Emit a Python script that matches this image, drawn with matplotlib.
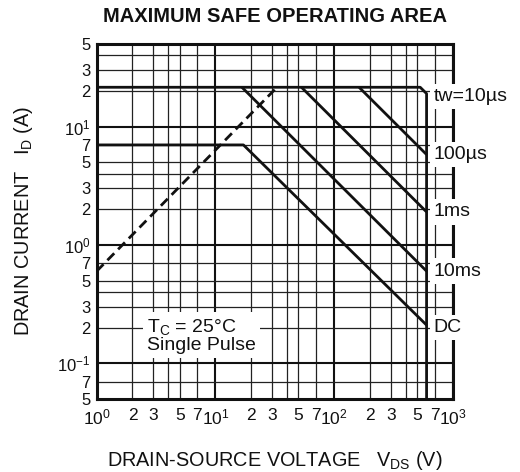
import matplotlib
matplotlib.use("Agg")
from matplotlib import pyplot as plt
from matplotlib.ticker import FixedLocator, FixedFormatter

plt.rcParams['font.family'] = ['Liberation Sans', 'DejaVu Sans']
plt.rcParams['mathtext.fontset'] = 'custom'
plt.rcParams['mathtext.rm'] = 'Liberation Sans'
plt.rcParams['mathtext.default'] = 'regular'

# curves (VDS in V, ID in A)
tw10_v = [1, 530, 600, 600]
tw10_i = [21.5, 21.5, 19, 0.05]
us100_v = [162, 600]
us100_i = [21.5, 5.8]
ms1_v = [53, 600]
ms1_i = [21.5, 1.9]
ms10_v = [16.7, 600]
ms10_i = [21.5, 0.6]
dc_v = [1, 17.2, 600]
dc_i = [7, 7, 0.21]
rds_v = [1, 33]
rds_i = [0.6, 21.5]

curve_labels = ['tw=10µs', '100µs', '1ms', '10ms', 'DC']
label_i = [18, 5.8, 1.9, 0.6, 0.2]
label_v = 690

x_major = [1, 10, 100, 1000]
x_major_lbl = ['$10^{0}$', '$10^{1}$', '$10^{2}$', '$10^{3}$']
x_minor = [2, 3, 4, 5, 7, 20, 30, 40, 50, 70, 200, 300, 400, 500, 700]
x_minor_lbl = ['2', '3', '', '5', '7'] * 3
y_major = [0.1, 1, 10]
y_major_lbl = ['$10^{-1}$', '$10^{0}$', '$10^{1}$']
y_minor = [0.05, 0.07, 0.2, 0.3, 0.4, 0.5, 0.7, 2, 3, 4, 5, 7, 20, 30, 40, 50]
y_minor_lbl = ['5', '7'] + ['2', '3', '', '5', '7'] * 2 + ['2', '3', '', '5']

fig = plt.figure(figsize=(5.2, 4.72), dpi=100)
ax = fig.add_axes([0.186, 0.155, 0.685, 0.752])
ax.set_xscale('log')
ax.set_yscale('log')
ax.set_xlim(1, 1000)
ax.set_ylim(0.05, 50)

ax.xaxis.set_major_locator(FixedLocator(x_major))
ax.xaxis.set_major_formatter(FixedFormatter(x_major_lbl))
ax.xaxis.set_minor_locator(FixedLocator(x_minor))
ax.xaxis.set_minor_formatter(FixedFormatter(x_minor_lbl))
ax.yaxis.set_major_locator(FixedLocator(y_major))
ax.yaxis.set_major_formatter(FixedFormatter(y_major_lbl))
ax.yaxis.set_minor_locator(FixedLocator(y_minor))
ax.yaxis.set_minor_formatter(FixedFormatter(y_minor_lbl))
ax.tick_params(which='both', length=0, labelsize=12, colors='#111111')
ax.tick_params(axis='x', which='both', pad=6.5, labelsize=12.5)
ax.tick_params(axis='y', which='both', pad=4.5)

ax.grid(which='major', color='#111111', lw=1.5)
ax.grid(which='minor', color='#222222', lw=0.9)
ax.set_axisbelow(True)
for s in ax.spines.values():
    s.set_linewidth(2.2)
    s.set_color('#111111')

lw = 2.0
for v, i in [(tw10_v, tw10_i), (us100_v, us100_i), (ms1_v, ms1_i),
             (ms10_v, ms10_i), (dc_v, dc_i)]:
    ax.plot(v, i, color='#111111', lw=lw, solid_capstyle='butt', zorder=3)
ax.plot(rds_v, rds_i, color='#111111', lw=lw, ls=(0, (3.5, 2)), zorder=3)

for txt, yi in zip(curve_labels, label_i):
    ax.text(label_v, yi, txt, ha='left', va='center', fontsize=14,
            color='#111111', clip_on=False, zorder=5,
            bbox=dict(boxstyle='square,pad=0.22', fc='white', ec='none'))

ax.text(2.65, 0.172, 'T$_{C}$ = 25°C\nSingle Pulse', ha='left', va='center',
        fontsize=14, color='#111111', linespacing=1.0, zorder=5,
        bbox=dict(boxstyle='square,pad=0.2', fc='white', ec='none'))

fig.text(0.529, 0.964, 'MAXIMUM SAFE OPERATING AREA', ha='center',
         va='center', fontsize=14.5, fontweight='bold', color='#111111')
fig.text(0.528, 0.025, 'DRAIN-SOURCE VOLTAGE   V$_{DS}$ (V)', ha='center',
         va='center', fontsize=14.3, color='#111111')
fig.text(0.045, 0.531, 'DRAIN CURRENT   I$_{D}$ (A)', ha='center',
         va='center', rotation=90, fontsize=14.3, color='#111111')

fig.savefig('out.png', dpi=100)
